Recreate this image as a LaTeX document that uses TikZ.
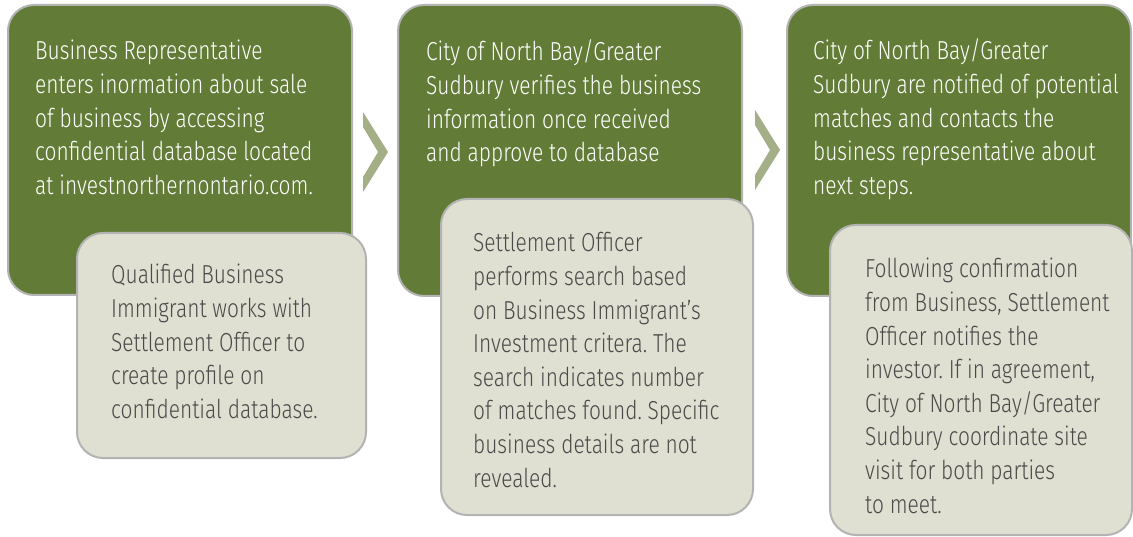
\documentclass[tikz,border=0pt]{standalone}
\usepackage{fontspec}
\setmainfont{Fira Sans Light}[FakeStretch=0.805]
\frenchspacing
\definecolor{gfill}{HTML}{627C37}
\definecolor{lfill}{HTML}{DFE0D1}
\definecolor{bord}{HTML}{B3B3B3}
\definecolor{chevc}{HTML}{A4AE87}
\definecolor{dtext}{HTML}{4A4A4A}
\begin{document}
\begin{tikzpicture}[x=1pt,y=-1pt,
 box/.style={draw=bord, line width=2pt, rounded corners=26pt, anchor=north west, inner sep=0pt, outer sep=0pt},
 gbox/.style={box, fill=gfill},
 lbox/.style={box, fill=lfill},
 txt/.style={anchor=base west, inner sep=0pt, font=\fontsize{26}{33.6}\selectfont},
 gtext/.style={txt, text=white},
 ltext/.style={txt, text=dtext},
 chevron/.style={fill=chevc}]
\fill[white] (0,0) rectangle (1133,537);
\useasboundingbox (0,0) rectangle (1133,537);
% green boxes
\node[gbox, minimum width=344pt, minimum height=290pt] (g1) at (8,5) {};
\node[gbox, minimum width=344pt, minimum height=291pt] (g2) at (398,5) {};
\node[gbox, minimum width=344pt, minimum height=291pt] (g3) at (787,5) {};
% chevrons
\coordinate (c1) at (363,112);
\coordinate (c2) at (755,110);
\foreach \c in {c1,c2}{
 \fill[chevron] (\c) -- ++(25,40) -- ++(-25,40) -- ++(0,-15) -- ++(15,-25) -- ++(-15,-25) -- cycle;
}
% light boxes
\node[lbox, minimum width=289pt, minimum height=225pt] (l1) at (77,233) {};
\node[lbox, minimum width=312pt, minimum height=316pt] (l2) at (441,199) {};
\node[lbox, minimum width=302pt, minimum height=310pt] (l3) at (830,225) {};
% texts
\node[gtext] (t1) at (35,60) {\vtop{\hbox{Business Representative}\hbox{enters inormation about sale}\hbox{of business by accessing}\hbox{confidential database located}\hbox{at investnorthernontario.com.}}};
\node[gtext] (t2) at (426,61) {\vtop{\hbox{City of North Bay/Greater}\hbox{Sudbury verifies the business}\hbox{information once received}\hbox{and approve to database}}};
\node[gtext] (t3) at (813,60) {\vtop{\hbox{City of North Bay/Greater}\hbox{Sudbury are notified of potential}\hbox{matches and contacts the}\hbox{business representative about}\hbox{next steps.}}};
\node[ltext] (u1) at (111,284) {\vtop{\hbox{Qualified Business}\hbox{Immigrant works with}\hbox{Settlement Officer to}\hbox{create profile on}\hbox{confidential database.}}};
\node[ltext] (u2) at (473,252) {\vtop{\hbox{Settlement Officer}\hbox{performs search based}\hbox{on Business Immigrant’s}\hbox{Investment critera. The}\hbox{search indicates number}\hbox{of matches found. Specific}\hbox{business details are not}\hbox{revealed.}}};
\node[ltext] (u3) at (865,278) {\vtop{\hbox{Following confirmation}\hbox{from Business, Settlement}\hbox{Officer notifies the}\hbox{investor. If in agreement,}\hbox{City of North Bay/Greater}\hbox{Sudbury coordinate site}\hbox{visit for both parties}\hbox{to meet.}}};
\end{tikzpicture}
\end{document}
